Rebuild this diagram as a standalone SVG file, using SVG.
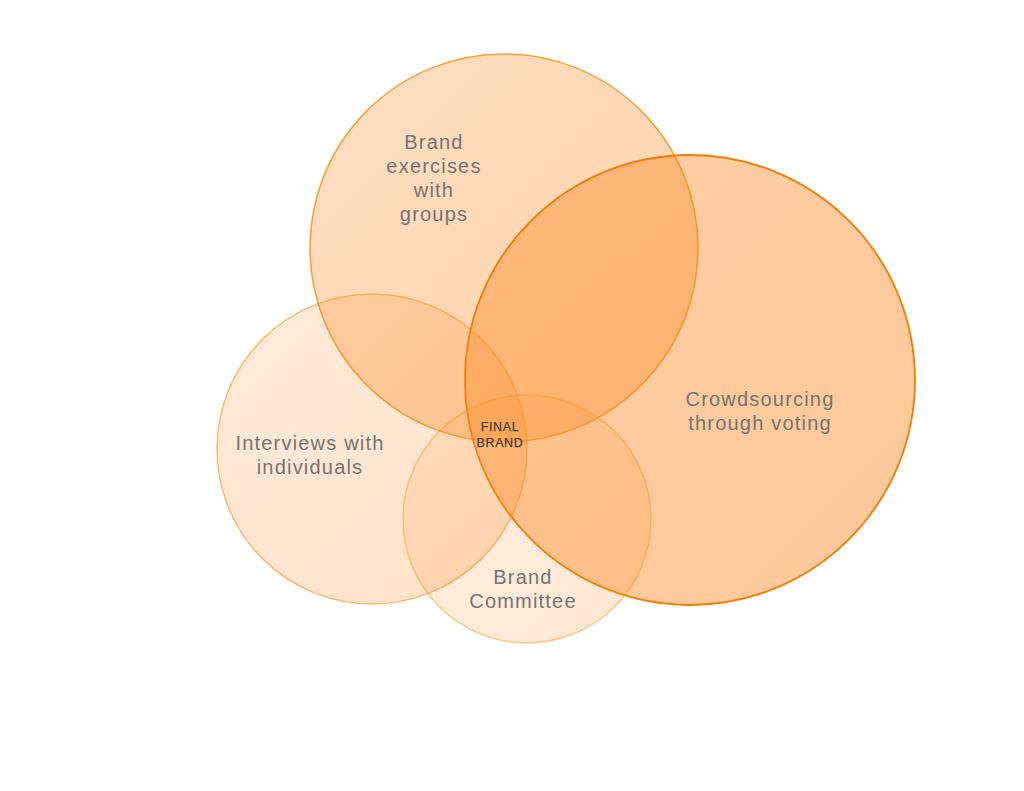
<svg xmlns="http://www.w3.org/2000/svg" width="1024" height="791" viewBox="0 0 1024 791">
<style>
.lbl{font-family:"Liberation Sans","DejaVu Sans",sans-serif;font-size:20px;fill:#747474;text-anchor:middle;letter-spacing:1.2px}
.core{font-family:"Liberation Sans","DejaVu Sans",sans-serif;font-size:12.5px;fill:#3e3e3e;text-anchor:middle;letter-spacing:0.6px;stroke:#3e3e3e;stroke-width:0.25px}
</style>
<defs>
<linearGradient id="gTop" x1="0" y1="0" x2="1" y2="1">
<stop offset="0" stop-color="#fd8c28" stop-opacity="0.28"/>
<stop offset="1" stop-color="#fd8c28" stop-opacity="0.40"/>
</linearGradient>
<linearGradient id="gRight" x1="0" y1="0" x2="1" y2="1">
<stop offset="0" stop-color="#fd8c28" stop-opacity="0.42"/>
<stop offset="1" stop-color="#fd8c28" stop-opacity="0.48"/>
</linearGradient>
<linearGradient id="gLeft" x1="0" y1="0" x2="1" y2="1">
<stop offset="0" stop-color="#fd8c28" stop-opacity="0.17"/>
<stop offset="1" stop-color="#fd8c28" stop-opacity="0.26"/>
</linearGradient>
<linearGradient id="gBottom" x1="0" y1="0" x2="1" y2="1">
<stop offset="0" stop-color="#fd8c28" stop-opacity="0.13"/>
<stop offset="1" stop-color="#fd8c28" stop-opacity="0.21"/>
</linearGradient>
</defs>
<rect width="1024" height="791" fill="#ffffff"/>
<g id="node-groups">
<circle cx="504" cy="248" r="194" fill="url(#gTop)" stroke="#f7941d" stroke-width="1.6" stroke-opacity="0.85"/>
</g>
<g id="node-crowdsourcing">
<circle cx="690" cy="380" r="225" fill="url(#gRight)" stroke="#f57c00" stroke-width="1.8"/>
</g>
<g id="node-interviews">
<circle cx="372" cy="449" r="155" fill="url(#gLeft)" stroke="#f7941d" stroke-width="1.5" stroke-opacity="0.6"/>
</g>
<g id="node-committee">
<circle cx="527" cy="519" r="124" fill="url(#gBottom)" stroke="#f7941d" stroke-width="1.5" stroke-opacity="0.45"/>
</g>
<g id="labels">
<text class="lbl" x="434" y="149">Brand</text>
<text class="lbl" x="434" y="173">exercises</text>
<text class="lbl" x="434" y="197">with</text>
<text class="lbl" x="434" y="221">groups</text>
<text class="lbl" x="310" y="450">Interviews with</text>
<text class="lbl" x="310" y="474">individuals</text>
<text class="lbl" x="760" y="406">Crowdsourcing</text>
<text class="lbl" x="760" y="430">through voting</text>
<text class="lbl" x="523" y="584">Brand</text>
<text class="lbl" x="523" y="608">Committee</text>
<text class="core" x="500" y="431">FINAL</text>
<text class="core" x="500" y="447">BRAND</text>
</g>
<g id="connectors"></g>
</svg>
